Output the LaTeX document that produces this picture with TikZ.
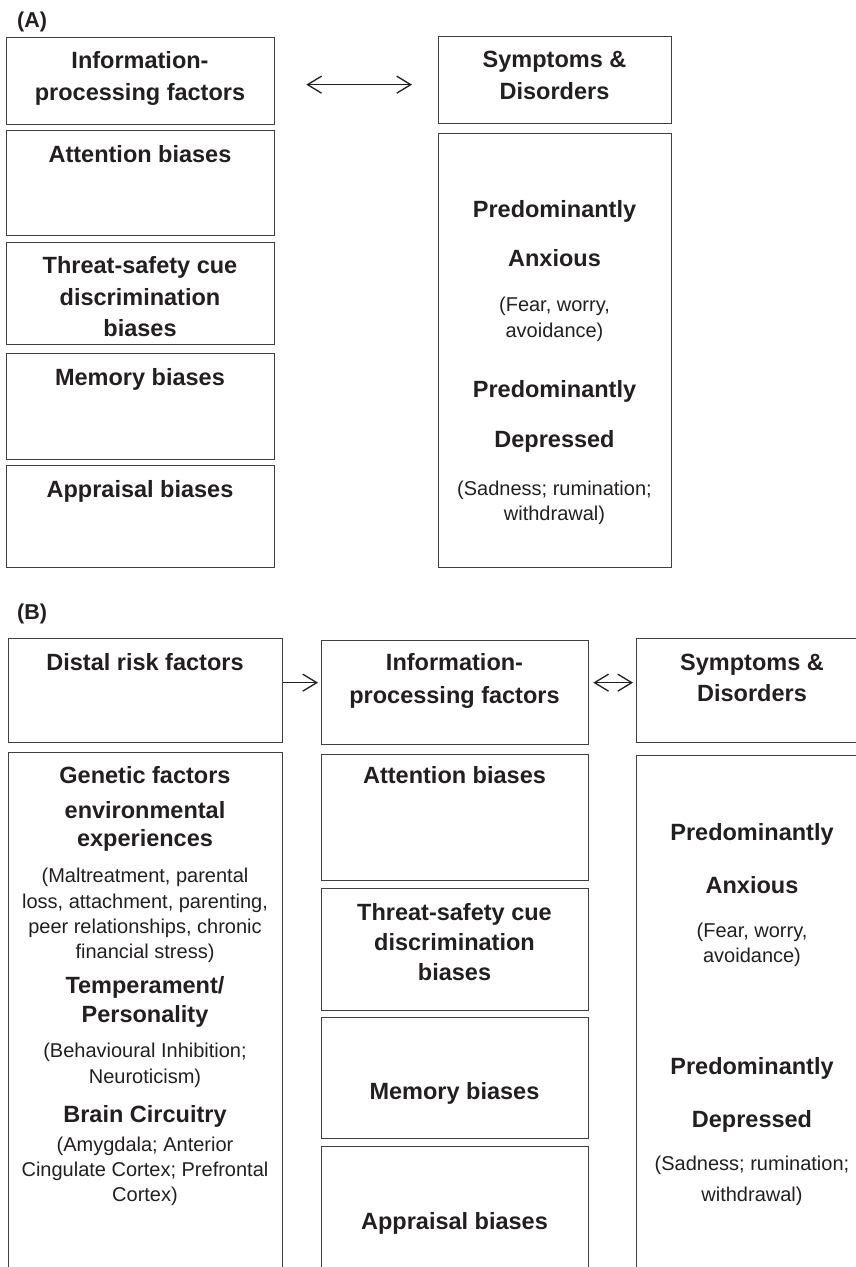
\documentclass[tikz,border=0pt]{standalone}
\usepackage{fontspec}
\setmainfont{Liberation Sans}
\usetikzlibrary{arrows.meta}
\definecolor{ink}{HTML}{231F20}
\definecolor{edge}{HTML}{404040}
\tikzset{
  box/.style={draw=edge, line width=1.3pt, inner sep=0pt, rectangle},
  hb/.style={font=\bfseries\fontsize{23.5}{28}\selectfont, text=ink, anchor=base, inner sep=0pt},
  rg/.style={font=\fontsize{20}{24}\selectfont, text=ink, anchor=base, inner sep=0pt},
  lab/.style={font=\bfseries\fontsize{21.5}{26}\selectfont, text=ink, anchor=base west, inner sep=0pt},
  arr/.style={draw=ink, line width=1.3pt, -{Straight Barb[length=14pt,width=17pt,line width=1.3pt]}},
  darr/.style={draw=ink, line width=1.3pt, {Straight Barb[length=14pt,width=17pt,line width=1.3pt]}-{Straight Barb[length=14pt,width=17pt,line width=1.3pt]}}
}
\newcommand{\bx}[5]{\node[box, minimum width={#4pt-#2pt}, minimum height={#5pt-#3pt}, anchor=north west] (#1) at (#2,#3) {};}
\begin{document}
\begin{tikzpicture}[x=1pt,y=-1pt]
\useasboundingbox (0,0) rectangle (856,1267);
\clip (0,0) rectangle (856,1267);
% ---------- Panel A ----------
\node[lab] (labA) at (17,27) {(A)};
\bx{aIPF}{6}{37}{274}{124}
\bx{aAtt}{6}{130}{274}{235}
\bx{aThr}{6}{242}{274}{344}
\bx{aMem}{6}{353}{274}{459}
\bx{aApp}{6}{465}{274}{567}
\bx{aSD}{438}{36}{671}{123}
\bx{aSym}{438}{133}{671}{567}
\draw[darr, shorten <=31pt, shorten >=26pt] ([yshift=-3.5pt]aIPF.east) -- ([yshift=-4.5pt]aSD.west);

\node[hb] (a1) at (140,68) {Information-};
\node[hb] (a2) at (140,100) {processing factors};
\node[hb] (a3) at (554.5,67) {Symptoms \&};
\node[hb] (a4) at (554.5,99) {Disorders};
\node[hb] (a5) at (140,162) {Attention biases};
\node[hb] (a6) at (140,273) {Threat-safety cue};
\node[hb] (a7) at (140,305) {discrimination};
\node[hb] (a8) at (140,336) {biases};
\node[hb] (a9) at (140,385) {Memory biases};
\node[hb] (a10) at (140,497) {Appraisal biases};
\node[hb] (a11) at (554.5,217) {Predominantly};
\node[hb] (a12) at (554.5,266) {Anxious};
\node[rg] (a13) at (554.5,311) {(Fear, worry,};
\node[rg] (a14) at (554.5,337) {avoidance)};
\node[hb] (a15) at (554.5,397) {Predominantly};
\node[hb] (a16) at (554.5,447) {Depressed};
\node[rg] (a17) at (554.5,495) {(Sadness; rumination;};
\node[rg] (a18) at (554.5,520) {withdrawal)};

% ---------- Panel B ----------
\node[lab] (labB) at (17,619) {(B)};
\bx{bDist}{8}{638}{282}{742}
\bx{bIPF}{321}{640}{588}{744}
\bx{bSD}{636}{638}{868}{742}
\bx{bRisk}{8}{752}{282}{1300}
\bx{bAtt}{321}{754}{588}{880}
\bx{bThr}{321}{888}{588}{1010}
\bx{bMem}{321}{1017}{588}{1138}
\bx{bApp}{321}{1146}{588}{1300}
\bx{bSym}{636}{755}{868}{1300}
\draw[arr, shorten >=3pt] ([yshift=8pt]bDist.east) -- ([yshift=10pt]bIPF.west);
\draw[darr, shorten <=4pt, shorten >=3pt] ([yshift=10pt]bIPF.east) -- ([yshift=8pt]bSD.west);

\node[hb] (b1) at (145,670) {Distal risk factors};
\node[hb] (b2) at (454.5,670) {Information-};
\node[hb] (b3) at (454.5,703) {processing factors};
\node[hb] (b4) at (752,670) {Symptoms \&};
\node[hb] (b5) at (752,701) {Disorders};

\node[hb] (c1) at (145,783) {Genetic factors};
\node[hb] (c2) at (145,818) {environmental};
\node[hb] (c3) at (145,846) {experiences};
\node[rg] (c4) at (145,882) {(Maltreatment, parental};
\node[rg] (c5) at (145,908) {loss, attachment, parenting,};
\node[rg] (c6) at (145,933) {peer relationships, chronic};
\node[rg] (c7) at (145,958) {financial stress)};
\node[hb] (c8) at (145,993) {Temperament/};
\node[hb] (c9) at (145,1022) {Personality};
\node[rg] (c10) at (145,1057) {(Behavioural Inhibition;};
\node[rg] (c11) at (145,1083) {Neuroticism)};
\node[hb] (c12) at (145,1122) {Brain Circuitry};
\node[rg] (c13) at (145,1151) {(Amygdala; Anterior};
\node[rg] (c14) at (145,1176) {Cingulate Cortex; Prefrontal};
\node[rg] (c15) at (145,1201) {Cortex)};

\node[hb] (d1) at (454.5,783) {Attention biases};
\node[hb] (d2) at (454.5,920) {Threat-safety cue};
\node[hb] (d3) at (454.5,950) {discrimination};
\node[hb] (d4) at (454.5,980) {biases};
\node[hb] (d5) at (454.5,1099) {Memory biases};
\node[hb] (d6) at (454.5,1229) {Appraisal biases};

\node[hb] (e1) at (752,840) {Predominantly};
\node[hb] (e2) at (752,893) {Anxious};
\node[rg] (e3) at (752,937) {(Fear, worry,};
\node[rg] (e4) at (752,962) {avoidance)};
\node[hb] (e5) at (752,1074) {Predominantly};
\node[hb] (e6) at (752,1127) {Depressed};
\node[rg] (e7) at (752,1170) {(Sadness; rumination;};
\node[rg] (e8) at (752,1201) {withdrawal)};
\end{tikzpicture}
\end{document}
